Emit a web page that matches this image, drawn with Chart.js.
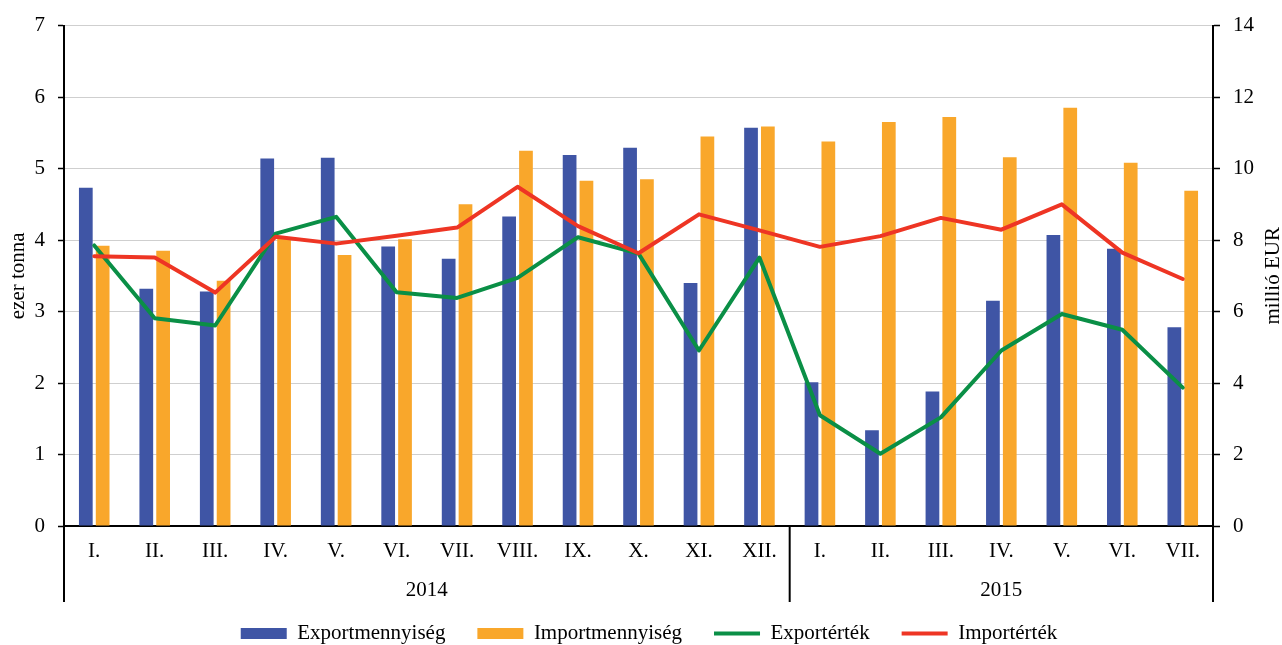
<!DOCTYPE html>
<html>
<head>
<meta charset="utf-8">
<script src="https://cdn.jsdelivr.net/npm/chart.js@4.4.1/dist/chart.umd.min.js"></script>
<style>
html,body{margin:0;padding:0;background:#fff;}
canvas{display:block;}
</style>
</head>
<body>
<canvas id="c" width="1282" height="645"></canvas>
<script>
const months = ['I.','II.','III.','IV.','V.','VI.','VII.','VIII.','IX.','X.','XI.','XII.','I.','II.','III.','IV.','V.','VI.','VII.'];
const years = ['2014', '2015'];
const yearMonthCounts = [12, 7];
const exportQty = [4.73, 3.32, 3.28, 5.14, 5.15, 3.91, 3.74, 4.33, 5.19, 5.29, 3.40, 5.57, 2.01, 1.34, 1.88, 3.15, 4.07, 3.88, 2.78];
const importQty = [3.92, 3.85, 3.43, 4.02, 3.79, 4.01, 4.50, 5.25, 4.83, 4.85, 5.45, 5.59, 5.38, 5.65, 5.72, 5.16, 5.85, 5.08, 4.69];
const exportVal = [7.85, 5.81, 5.61, 8.18, 8.65, 6.54, 6.38, 6.94, 8.08, 7.62, 4.91, 7.51, 3.10, 2.02, 3.04, 4.91, 5.93, 5.49, 3.87];
const importVal = [7.55, 7.51, 6.53, 8.09, 7.90, 8.12, 8.35, 9.49, 8.39, 7.63, 8.72, 8.27, 7.81, 8.11, 8.62, 8.29, 9.00, 7.65, 6.91];
const leftTitle = 'ezer tonna';
const rightTitle = 'millió EUR';

const FONT = "'Liberation Serif', 'Times New Roman', serif";
const BLUE = '#3F55A5', ORANGE = '#F9A72B', GREEN = '#0A8F46', RED = '#EE3524';

const groupPlugin = {
  id: 'groups',
  afterDraw(chart) {
    const ctx = chart.ctx;
    const xs = chart.scales.x;
    const area = chart.chartArea;
    const bottom = 602;
    ctx.save();
    ctx.strokeStyle = '#000';
    ctx.lineWidth = 2;
    const bounds = [area.left];
    let idx = 0;
    yearMonthCounts.forEach((n) => {
      idx += n;
      if (idx < months.length) {
        bounds.push((xs.getPixelForValue(idx - 1) + xs.getPixelForValue(idx)) / 2);
      } else {
        bounds.push(area.right);
      }
    });
    bounds.forEach(b => {
      ctx.beginPath();
      ctx.moveTo(b, area.bottom);
      ctx.lineTo(b, bottom);
      ctx.stroke();
    });
    ctx.fillStyle = '#000';
    ctx.font = "21px " + FONT;
    ctx.textAlign = 'center';
    ctx.textBaseline = 'alphabetic';
    years.forEach((y, i) => {
      ctx.fillText(y, (bounds[i] + bounds[i + 1]) / 2, 596);
    });
    // right axis title, reading bottom to top
    ctx.translate(1279, (area.top + area.bottom) / 2);
    ctx.rotate(-Math.PI / 2);
    ctx.fillText(rightTitle, 0, 0);
    ctx.restore();
  }
};

new Chart(document.getElementById('c'), {
  type: 'bar',
  data: {
    labels: months,
    datasets: [
      { label: 'Exportmennyiség', data: exportQty, backgroundColor: BLUE, yAxisID: 'y', order: 2,
        categoryPercentage: 0.557, barPercentage: 0.815, pointStyle: 'rect', borderWidth: 0 },
      { label: 'Importmennyiség', data: importQty, backgroundColor: ORANGE, yAxisID: 'y', order: 3,
        categoryPercentage: 0.557, barPercentage: 0.815, pointStyle: 'rect', borderWidth: 0 },
      { type: 'line', label: 'Exportérték', data: exportVal, borderColor: GREEN, backgroundColor: GREEN,
        borderWidth: 4, pointRadius: 0, tension: 0, yAxisID: 'y1', order: 1, pointStyle: 'line',
        borderCapStyle: 'round', borderJoinStyle: 'round' },
      { type: 'line', label: 'Importérték', data: importVal, borderColor: RED, backgroundColor: RED,
        borderWidth: 4, pointRadius: 0, tension: 0, yAxisID: 'y1', order: 0, pointStyle: 'line',
        borderCapStyle: 'round', borderJoinStyle: 'round' }
    ]
  },
  options: {
    responsive: false,
    animation: false,
    devicePixelRatio: 1,
    layout: { padding: { left: 0, right: -16, top: 22, bottom: 0 } },
    plugins: {
      tooltip: { enabled: false },
      legend: {
        position: 'bottom',
        maxHeight: 54,
        labels: {
          usePointStyle: true,
          pointStyleWidth: 46,
          boxHeight: 11,
          padding: 32,
          color: '#000',
          font: { family: FONT, size: 21 },
          sort: (a, b) => a.datasetIndex - b.datasetIndex
        }
      }
    },
    scales: {
      x: {
        type: 'category',
        offset: true,
        grid: { display: false, drawTicks: false },
        border: { display: true, color: '#000', width: 2 },
        ticks: { color: '#000', font: { family: FONT, size: 21 }, padding: 13, maxRotation: 0, autoSkip: false },
        afterFit(s) { s.height = 65; }
      },
      y: {
        position: 'left',
        min: 0, max: 7,
        ticks: { stepSize: 1, color: '#000', font: { family: FONT, size: 21 }, padding: 13 },
        grid: { color: '#cfcfcf', lineWidth: 1, drawTicks: true, tickLength: 6, tickColor: '#000', tickWidth: 1.5 },
        border: { display: true, color: '#000', width: 2 },
        title: { display: true, text: leftTitle, color: '#000', font: { family: FONT, size: 21 }, padding: { top: 6, bottom: 0 } },
        afterFit(s) { s.width = 64; }
      },
      y1: {
        position: 'right',
        min: 0, max: 14,
        ticks: { stepSize: 2, color: '#000', font: { family: FONT, size: 21 }, padding: 13 },
        grid: { drawOnChartArea: false, drawTicks: true, tickLength: 7, tickColor: '#000', tickWidth: 1.5 },
        border: { display: true, color: '#000', width: 2 },
        afterFit(s) { s.width = 85; }
      }
    }
  },
  plugins: [groupPlugin]
});
</script>
</body>
</html>
